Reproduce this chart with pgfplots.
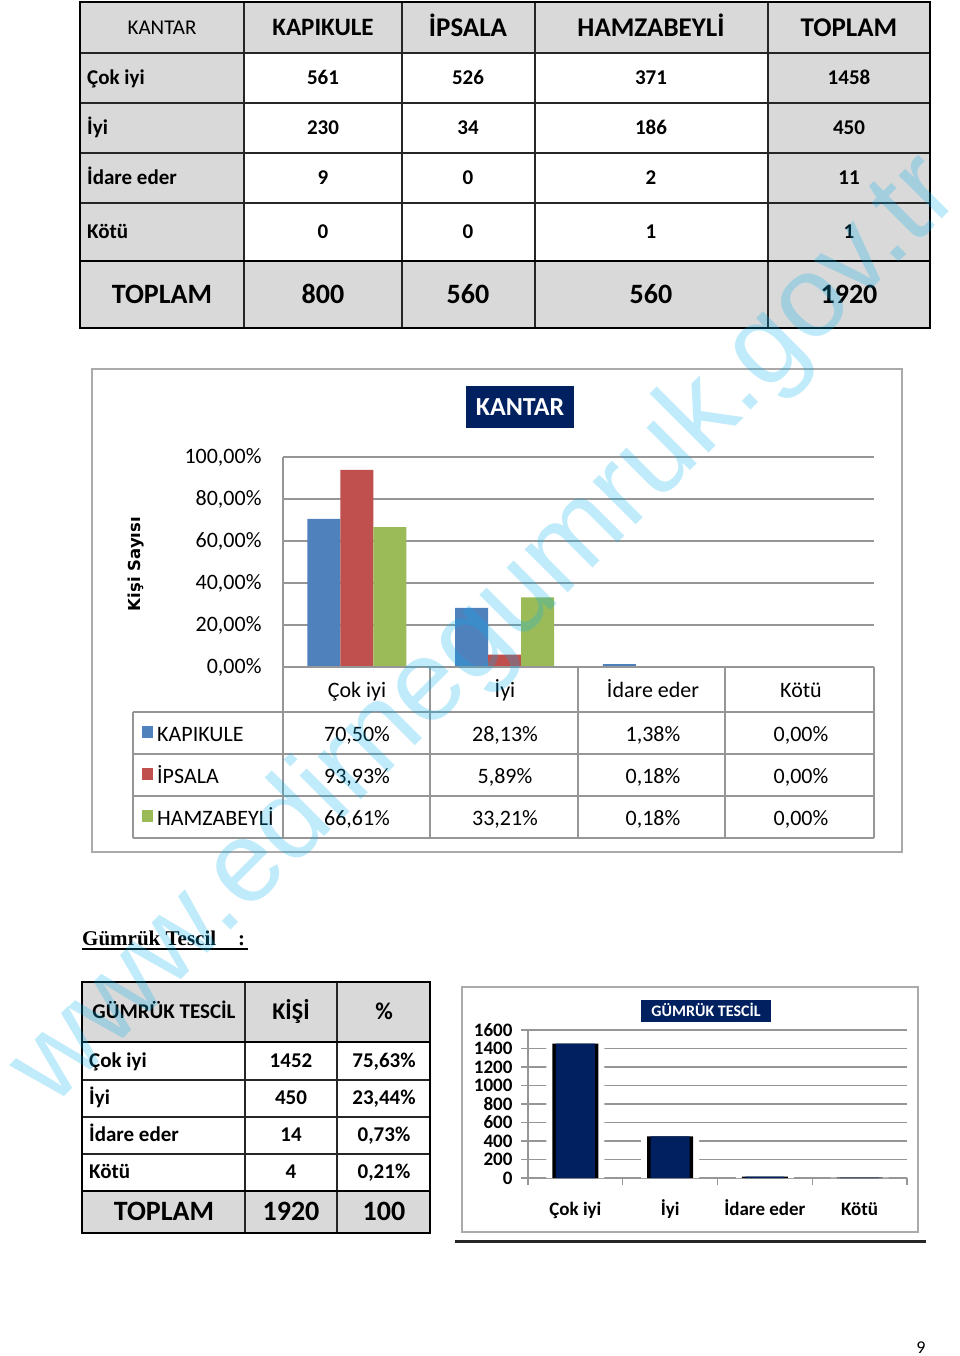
\documentclass[border=0pt]{standalone}
\usepackage{fontspec}
\setmainfont{Carlito}
\newfontfamily\serifx{Liberation Serif}
\newfontfamily\wmfont{Liberation Sans}
\newfontfamily\labfont{DejaVu Sans}
\usepackage{pgfplots}
\pgfplotsset{compat=1.18}

\definecolor{cellgray}{RGB}{217,217,217}
\definecolor{navy}{RGB}{0,32,96}
\definecolor{kblue}{RGB}{79,129,189}
\definecolor{kred}{RGB}{192,80,77}
\definecolor{kgreen}{RGB}{155,187,89}
\definecolor{gridg}{RGB}{150,150,150}
\definecolor{boxg}{RGB}{170,170,170}
\definecolor{wm}{RGB}{0,176,240}

\newcommand{\fs}[1]{\fontsize{#1}{#1}\selectfont}

% text node whose caps are centred on the given point
\tikzset{
  cell/.style={inner sep=0pt, anchor=base, yshift=-0.32*#1pt, font=\fs{#1}},
  bcell/.style={inner sep=0pt, anchor=base, yshift=-0.32*#1pt, font=\bfseries\fs{#1}},
}

\begin{document}
\begin{tikzpicture}[x=1pt,y=-1pt]
\useasboundingbox (0,0) rectangle (960,1356);
\fill[white] (0,0) rectangle (960,1356);

% ---------------- top table: KANTAR
\fill[cellgray] (80,2) rectangle (930,53);
\fill[cellgray] (80,53) rectangle (244,261);
\fill[cellgray] (768,53) rectangle (930,261);
\fill[cellgray] (80,261) rectangle (930,328);
\foreach \y in {53,103,153,203} \draw[line width=1.5pt, black!85] (80,\y) -- (930,\y);
\foreach \x in {244,402,535,768} \draw[line width=1.5pt, black!85] (\x,2) -- (\x,328);
\draw[line width=2.5pt] (80,261) -- (930,261);
\draw[line width=2.5pt] (80,2) rectangle (930,328);

\node[cell=21] at (162,27.5) {KANTAR};
\node[bcell=25] at (323,27.5) {KAPIKULE};
\foreach \x/\t in {468/İPSALA, 651/HAMZABEYLİ, 849/TOPLAM}
  \node[bcell=27] at (\x,27.5) {\t};
\foreach \y/\t/\a/\b/\c/\d in {78/Çok iyi/561/526/371/1458, 128/İyi/230/34/186/450,
    178/İdare eder/9/0/2/11, 232/Kötü/0/0/1/1} {
  \node[bcell=21, anchor=base west] at (87,\y) {\t};
  \node[bcell=21] at (323,\y) {\a};
  \node[bcell=21] at (468,\y) {\b};
  \node[bcell=21] at (651,\y) {\c};
  \node[bcell=21] at (849,\y) {\d};
}
\foreach \x/\t in {162/TOPLAM, 323/800, 468/560, 651/560, 849/1920}
  \node[bcell=28] at (\x,295) {\t};

% ---------------- middle chart: KANTAR
\draw[boxg, line width=2pt] (92,369) rectangle (902,852);
\fill[navy] (466,386) rectangle (574,428);
\node[bcell=26, text=white] at (520,407) {KANTAR};
\node[font=\labfont\bfseries\fs{16.5}, rotate=90] at (136,564) {Kişi Sayısı};

\begin{axis}[
  at={(283pt,-667pt)}, anchor=south west,
  scale only axis, width=591pt, height=210pt,
  xmin=-0.5, xmax=3.5, ymin=0, ymax=100,
  ybar=0pt, bar width=33pt,
  xtick=\empty,
  ytick={0,20,40,60,80,100},
  yticklabels={{0,00\%},{20,00\%},{40,00\%},{60,00\%},{80,00\%},{100,00\%}},
  y tick label style={font=\fs{22}, xshift=-18pt},
  major tick length=0pt,
  ymajorgrids, grid style={gridg, line width=1.6pt},
  axis line style={draw=none},
]
\addplot[fill=kblue, draw=none] coordinates {(0,70.50) (1,28.13) (2,1.38) (3,0)};
\addplot[fill=kred, draw=none] coordinates {(0,93.93) (1,5.89) (2,0.18) (3,0)};
\addplot[fill=kgreen, draw=none] coordinates {(0,66.61) (1,33.21) (2,0.18) (3,0)};
\end{axis}

% data table under the chart
\draw[gridg, line width=1.6pt] (283,457) -- (283,838);
\foreach \x in {430,578,725,874} \draw[gridg, line width=1.6pt] (\x,667) -- (\x,838);
\draw[gridg, line width=1.6pt] (133,712) -- (133,838);
\draw[gridg, line width=1.6pt] (283,667) -- (874,667);
\foreach \y in {712,754,796,838} \draw[gridg, line width=1.6pt] (133,\y) -- (874,\y);
\foreach \x/\t in {357/Çok iyi, 505/İyi, 653/İdare eder, 801/Kötü}
  \node[cell=22] at (\x,690) {\t};
\foreach \y/\c/\t/\a/\b/\cc/\d in {734/kblue/KAPIKULE/{70,50\%}/{28,13\%}/{1,38\%}/{0,00\%},
    776/kred/İPSALA/{93,93\%}/{5,89\%}/{0,18\%}/{0,00\%},
    818/kgreen/HAMZABEYLİ/{66,61\%}/{33,21\%}/{0,18\%}/{0,00\%}} {
  \fill[\c] (142,\y-8) rectangle (153,\y+4);
  \node[cell=22, anchor=base west] at (157,\y) {\t};
  \node[cell=22] at (357,\y) {\a};
  \node[cell=22] at (505,\y) {\b};
  \node[cell=22] at (653,\y) {\cc};
  \node[cell=22] at (801,\y) {\d};
}

% ---------------- Gümrük Tescil heading
\node[font=\serifx\bfseries\fs{21}, anchor=base west, inner sep=0pt] at (82,945) {Gümrük Tescil\hspace{22pt}:};
\draw[line width=1.3pt] (82,949) -- (248,949);

% ---------------- bottom-left table
\fill[cellgray] (82,982) rectangle (430,1042);
\fill[cellgray] (82,1191) rectangle (430,1233);
\foreach \y in {1080,1117,1154} \draw[line width=1.5pt, black!85] (82,\y) -- (430,\y);
\foreach \x in {245,337} \draw[line width=1.5pt, black!85] (\x,982) -- (\x,1233);
\draw[line width=2.5pt] (82,1042) -- (430,1042);
\draw[line width=2.5pt] (82,1191) -- (430,1191);
\draw[line width=2.5pt] (82,982) rectangle (430,1233);
\node[bcell=21] at (164,1012) {GÜMRÜK TESCİL};
\node[bcell=24] at (291,1012) {KİŞİ};
\node[bcell=24] at (384,1012) {\%};
\foreach \y/\t/\a/\b in {1061/Çok iyi/1452/{75,63\%}, 1098/İyi/450/{23,44\%},
    1135/İdare eder/14/{0,73\%}, 1172/Kötü/4/{0,21\%}} {
  \node[bcell=21, anchor=base west] at (89,\y) {\t};
  \node[bcell=21] at (291,\y) {\a};
  \node[bcell=21] at (384,\y) {\b};
}
\foreach \x/\t in {164/TOPLAM, 291/1920, 384/100}
  \node[bcell=28] at (\x,1212) {\t};

% ---------------- bottom-right chart
\draw[boxg, line width=2pt] (462,987) rectangle (918,1232);
\fill[navy] (641,1000) rectangle (771,1022);
\node[bcell=16, text=white] at (706,1011) {GÜMRÜK TESCİL};

\begin{axis}[
  at={(528pt,-1178pt)}, anchor=south west,
  scale only axis, width=379pt, height=148pt,
  xmin=-0.5, xmax=3.5, ymin=0, ymax=1600,
  ybar, bar width=44pt,
  axis lines=left,
  axis line style={-, gridg, line width=1.3pt},
  xtick={-0.5,0.5,1.5,2.5,3.5}, xticklabels={},
  extra x ticks={0,1,2,3},
  extra x tick labels={Çok iyi, İyi, İdare eder, Kötü},
  extra x tick style={tick style={draw=none}, grid=none,
    tick label style={font=\bfseries\fs{19}, text height=13pt, text depth=5pt, yshift=-14pt}},
  ytick={0,200,...,1600},
  /pgf/number format/assume math mode=true,
  /pgf/number format/1000 sep={},
  y tick label style={font=\bfseries\fs{19}, xshift=-5pt},
  tick align=outside, major tick length=7pt,
  tick style={gridg, line width=1.2pt},
  ymajorgrids, grid style={gridg, line width=1.3pt},
]
\addplot[fill=white, draw=none, bar shift=0pt, bar width=58pt] coordinates {(0,1452) (1,450) (2,14) (3,4)};
\addplot[fill=black, draw=none, bar shift=0pt, bar width=46pt] coordinates {(0,1452) (1,450) (2,14) (3,4)};
\addplot[fill=navy, draw=none, bar shift=0pt, bar width=39pt] coordinates {(0,1452) (1,450) (2,14) (3,4)};
\end{axis}

\draw[black!85, line width=3pt] (455,1241.5) -- (926,1241.5);

% page number
\node[cell=18] at (921,1348) {9};

% watermark
\node[rotate=45, font=\wmfont\fs{115}, text=wm, opacity=0.25, inner sep=0pt] at (487,632) {www.edirnegumruk.gov.tr};

\end{tikzpicture}
\end{document}
